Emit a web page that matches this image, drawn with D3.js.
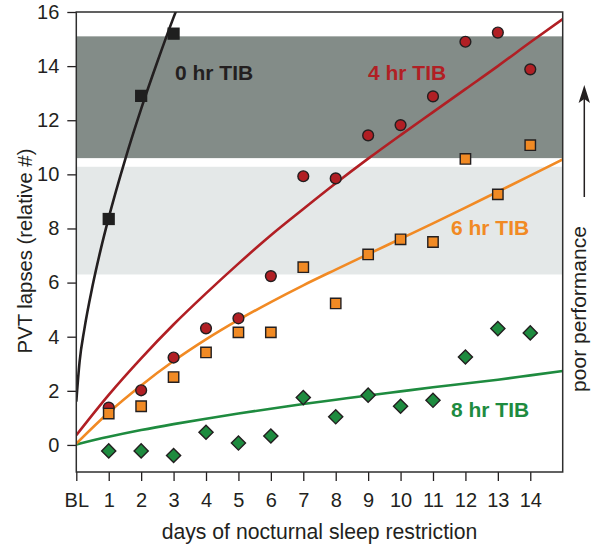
<!DOCTYPE html>
<html>
<head>
<meta charset="utf-8">
<script src="https://cdn.jsdelivr.net/npm/d3@7/dist/d3.min.js"></script>
<style>
  html, body { margin: 0; padding: 0; background: #fff; }
  svg { display: block; font-family: "Liberation Sans", Arial, Helvetica, sans-serif; }
</style>
</head>
<body>
<svg id="chart" width="591" height="546"></svg>
<script>
// Days of restriction (0 = baseline)
const tickDays = [0, 1, 2, 3, 4, 5, 6, 7, 8, 9, 10, 11, 12, 13, 14];
const tickDayLabels = ["BL", "1", "2", "3", "4", "5", "6", "7", "8", "9", "10", "11", "12", "13", "14"];
const yTicks = [0, 2, 4, 6, 8, 10, 12, 14, 16];

// Observed PVT lapses per condition
const days0 = [1, 2, 3];
const lapses0 = [8.35, 12.9, 15.2];
const days = [1, 2, 3, 4, 5, 6, 7, 8, 9, 10, 11, 12, 13, 14];
const lapses4 = [1.38, 2.02, 3.23, 4.31, 4.68, 6.24, 9.93, 9.85, 11.44, 11.82, 12.88, 14.9, 15.24, 13.88];
const lapses6 = [1.16, 1.43, 2.51, 3.42, 4.16, 4.16, 6.57, 5.23, 7.04, 7.6, 7.5, 10.57, 9.26, 11.08];
const lapses8 = [-0.22, -0.22, -0.39, 0.47, 0.07, 0.33, 1.75, 1.04, 1.84, 1.43, 1.65, 3.25, 4.3, 4.14];

// Fitted response curves
const fitDays0 = [0, 0.1, 0.25, 0.5, 0.75, 1, 1.5, 2, 2.5, 3, 3.25];
const fit0 = [1.6, 3.06, 4.29, 5.87, 7.21, 8.4, 10.52, 12.42, 14.16, 15.8, 16.57];
const fitDays = [0, 1, 2, 3, 4, 5, 6, 7, 8, 9, 10, 11, 12, 13, 14, 15];
const fit4 = [0.36, 1.85, 3.2, 4.45, 5.6, 6.7, 7.75, 8.72, 9.67, 10.58, 11.45, 12.3, 13.15, 14.0, 14.88, 15.74];
const fit6 = [0.05, 1.2, 2.2, 3.1, 3.9, 4.62, 5.28, 5.9, 6.48, 7.05, 7.62, 8.19, 8.77, 9.36, 9.95, 10.55];
const fit8 = [0.02, 0.3, 0.55, 0.77, 0.97, 1.16, 1.34, 1.51, 1.67, 1.83, 1.98, 2.13, 2.27, 2.41, 2.57, 2.73];

// Shaded performance ranges (lapse values)
const bandLow = [10.6, 6.3];
const bandHigh = [15.1, 10.28];

const conditionNames = ["0 hr TIB", "4 hr TIB", "6 hr TIB", "8 hr TIB"];

const svg = d3.select("#chart");
const x = d3.scaleLinear().domain([0, 15]).range([76.3, 562.7]);
const y = d3.scaleLinear().domain([-1, 16]).range([472, 12]);

const colors = { c0: "#231f20", c4: "#b11f24", c6: "#f18a24", c8: "#1e8b3f" };
const bandColors = ["#838c88", "#e4e8e8"];
const ink = "#231f20";

svg.append("defs").append("clipPath").attr("id", "plotClip")
  .append("rect")
  .attr("x", x(0)).attr("y", y(16))
  .attr("width", x(15) - x(0)).attr("height", y(-1) - y(16));

// bands
svg.append("g").selectAll("rect")
  .data(bandLow.map((lo, i) => ({ lo, hi: bandHigh[i], i })))
  .join("rect")
  .attr("x", x(0)).attr("width", x(15) - x(0))
  .attr("y", d => y(d.hi)).attr("height", d => y(d.lo) - y(d.hi))
  .attr("fill", d => bandColors[d.i]);

// axes
const yAxis = d3.axisLeft(y).tickValues(yTicks).tickSize(9).tickPadding(8).tickFormat(d3.format("d"));
const gy = svg.append("g").attr("transform", `translate(${x(0)},0)`).call(yAxis);
const xAxis = d3.axisBottom(x).tickValues(tickDays).tickSize(9).tickPadding(12)
  .tickFormat((d, i) => tickDayLabels[i]);
const gx = svg.append("g").attr("transform", `translate(0,${y(-1)})`).call(xAxis);
[gy, gx].forEach(g => {
  g.select(".domain").remove();
  g.selectAll(".tick line").attr("stroke", ink).attr("stroke-width", 1.3);
  g.selectAll(".tick text").attr("fill", ink).style("font-size", "20px");
});

// fitted curves
const line = d3.line().x(d => x(d[0])).y(d => y(d[1])).curve(d3.curveMonotoneX);
const curves = svg.append("g").attr("clip-path", "url(#plotClip)").attr("fill", "none");
curves.append("path").attr("d", line(fitDays.map((d, i) => [d, fit8[i]])))
  .attr("stroke", colors.c8).attr("stroke-width", 2.6);
curves.append("path").attr("d", line(fitDays.map((d, i) => [d, fit6[i]])))
  .attr("stroke", colors.c6).attr("stroke-width", 2.6);
curves.append("path").attr("d", line(fitDays.map((d, i) => [d, fit4[i]])))
  .attr("stroke", colors.c4).attr("stroke-width", 2.6);
curves.append("path").attr("d", line(fitDays0.map((d, i) => [d, fit0[i]])))
  .attr("stroke", colors.c0).attr("stroke-width", 2.6);

// markers
const marks = svg.append("g").attr("stroke", ink).attr("stroke-width", 1.4);
marks.selectAll("circle.m4")
  .data(days.map((d, i) => [d, lapses4[i]]))
  .join("circle").attr("class", "m4")
  .attr("cx", d => x(d[0])).attr("cy", d => y(d[1])).attr("r", 5.4)
  .attr("fill", colors.c4);

const sq = d3.symbol().type(d3.symbolSquare).size(108);
marks.selectAll("path.m6")
  .data(days.map((d, i) => [d, lapses6[i]]))
  .join("path").attr("class", "m6")
  .attr("d", sq)
  .attr("transform", d => `translate(${x(d[0])},${y(d[1])})`)
  .attr("fill", colors.c6);

const dia = d3.symbol().type(d3.symbolSquare).size(100);
marks.selectAll("path.m8")
  .data(days.map((d, i) => [d, lapses8[i]]))
  .join("path").attr("class", "m8")
  .attr("d", dia)
  .attr("transform", d => `translate(${x(d[0])},${y(d[1])}) rotate(45)`)
  .attr("fill", colors.c8);

const bigSq = d3.symbol().type(d3.symbolSquare).size(150);
marks.selectAll("path.m0")
  .data(days0.map((d, i) => [d, lapses0[i]]))
  .join("path").attr("class", "m0")
  .attr("d", bigSq)
  .attr("transform", d => `translate(${x(d[0])},${y(d[1])})`)
  .attr("fill", "#1f1f1f").attr("stroke", "none");

// condition labels
const labelPos = [[175, 80], [368, 80], [451, 235], [451, 417]];
const labelColors = [colors.c0, colors.c4, colors.c6, colors.c8];
svg.append("g").selectAll("text")
  .data(conditionNames)
  .join("text")
  .attr("x", (d, i) => labelPos[i][0]).attr("y", (d, i) => labelPos[i][1])
  .attr("fill", (d, i) => labelColors[i])
  .style("font-size", "21px").style("font-weight", "bold")
  .text(d => d);

// frame
svg.append("rect")
  .attr("x", x(0)).attr("y", y(16))
  .attr("width", x(15) - x(0)).attr("height", y(-1) - y(16))
  .attr("fill", "none").attr("stroke", "#2e2e2e").attr("stroke-width", 1.5);

// axis titles
svg.append("text")
  .attr("x", (x(0) + x(15)) / 2).attr("y", 539)
  .attr("text-anchor", "middle").attr("fill", ink)
  .style("font-size", "21.2px")
  .text("days of nocturnal sleep restriction");

svg.append("text")
  .attr("transform", "translate(32,251) rotate(-90)")
  .attr("text-anchor", "middle").attr("fill", ink)
  .style("font-size", "20.3px")
  .text("PVT lapses (relative #)");

// performance direction arrow
svg.append("line")
  .attr("x1", 584.3).attr("x2", 584.3).attr("y1", 197).attr("y2", 98)
  .attr("stroke", ink).attr("stroke-width", 1.5);
svg.append("path")
  .attr("d", "M584.3,85 L590,103 L584.3,99 L578.6,103 Z")
  .attr("fill", ink);
svg.append("text")
  .attr("transform", "translate(586,309) rotate(-90)")
  .attr("text-anchor", "middle").attr("fill", ink)
  .style("font-size", "21px")
  .text("poor performance");
</script>
</body>
</html>
